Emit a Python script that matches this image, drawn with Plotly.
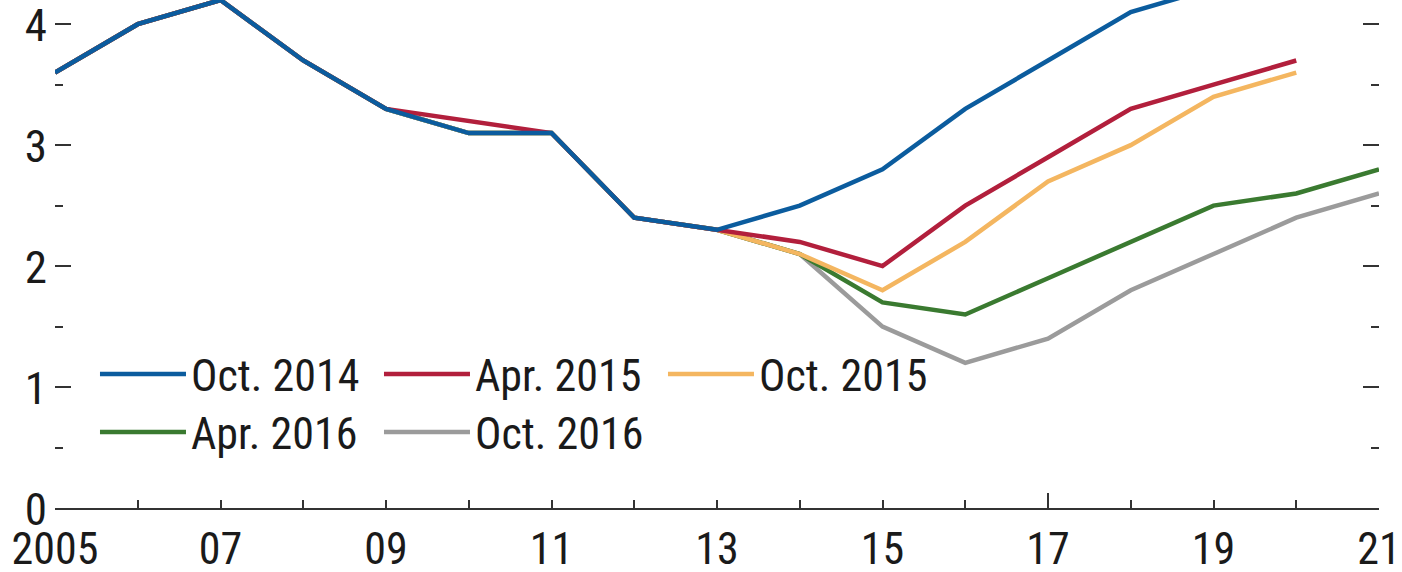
import plotly.graph_objects as go

years = list(range(2005, 2022))

oct_2014 = [3.6, 4.0, 4.2, 3.7, 3.3, 3.1, 3.1, 2.4, 2.3, 2.5, 2.8, 3.3, 3.7, 4.1, 4.3, None, None]
apr_2015 = [3.6, 4.0, 4.2, 3.7, 3.3, 3.2, 3.1, 2.4, 2.3, 2.2, 2.0, 2.5, 2.9, 3.3, 3.5, 3.7, None]
oct_2015 = [3.6, 4.0, 4.2, 3.7, 3.3, 3.1, 3.1, 2.4, 2.3, 2.1, 1.8, 2.2, 2.7, 3.0, 3.4, 3.6, None]
apr_2016 = [3.6, 4.0, 4.2, 3.7, 3.3, 3.1, 3.1, 2.4, 2.3, 2.1, 1.7, 1.6, 1.9, 2.2, 2.5, 2.6, 2.8]
oct_2016 = [3.6, 4.0, 4.2, 3.7, 3.3, 3.1, 3.1, 2.4, 2.3, 2.1, 1.5, 1.2, 1.4, 1.8, 2.1, 2.4, 2.6]

series_names = ["Oct. 2014", "Apr. 2015", "Oct. 2015", "Apr. 2016", "Oct. 2016"]
series_values = [oct_2014, apr_2015, oct_2015, apr_2016, oct_2016]
series_colors = ["#0B5C9E", "#B21F3C", "#F4B660", "#3A7A30", "#9B9B9B"]
legend_ids = ["legend", "legend", "legend", "legend2", "legend2"]

x_tick_vals = list(range(2005, 2022, 2))
x_tick_text = ["2005", "07", "09", "11", "13", "15", "17", "19", "21"]
tall_tick_years = [2005, 2017]
y_tick_vals = [0, 1, 2, 3, 4]

FONT = "Liberation Sans Narrow, Arial Narrow, Roboto Condensed, DejaVu Sans Condensed, sans-serif"
TICKC = "#333333"

fig = go.Figure()
# draw in reverse order so Oct. 2014 is on top of the shared history
order = [4, 3, 2, 1, 0]
for i in order:
    fig.add_trace(go.Scatter(
        x=years, y=series_values[i], name=series_names[i], mode="lines",
        line=dict(color=series_colors[i], width=4.5),
        legend=legend_ids[i], legendrank=i + 1, connectgaps=False,
    ))

# helper trace so the overlay axis carrying the tall ticks is drawn
fig.add_trace(go.Scatter(x=[years[0]], y=[None], xaxis="x2", showlegend=False,
                         hoverinfo="skip", mode="lines"))

legend_common = dict(orientation="h", xanchor="left", yanchor="top",
                     entrywidth=183, itemwidth=86, bgcolor="rgba(0,0,0,0)",
                     font=dict(size=44), traceorder="normal")

fig.update_layout(
    width=1402, height=572,
    margin=dict(l=55, r=23, t=0, b=64, autoexpand=False),
    paper_bgcolor="white", plot_bgcolor="white",
    font=dict(family=FONT, size=45, color="#1a1a1a"),
    showlegend=True,
    legend=dict(x=0.0302, y=0.333, **legend_common),
    legend2=dict(x=0.0302, y=0.2185, **legend_common),
    xaxis=dict(range=[2005, 2021], tickvals=x_tick_vals, ticktext=x_tick_text,
               ticks="inside", ticklen=8, tickwidth=2, tickcolor=TICKC,
               minor=dict(dtick=1, tick0=2005, ticks="inside", ticklen=8, tickwidth=2, tickcolor=TICKC),
               showline=True, linecolor=TICKC, linewidth=2, showgrid=False, zeroline=False,
               tickfont=dict(size=44), ticklabelstandoff=1, ticklabeloverflow="allow",
               automargin=False),
    xaxis2=dict(range=[2005, 2021], overlaying="x", anchor="y", side="bottom",
                tickvals=tall_tick_years, ticks="inside", ticklen=15, tickwidth=2,
                tickcolor=TICKC, showticklabels=False, showline=False, showgrid=False,
                zeroline=False, automargin=False),
    yaxis=dict(range=[0, 4.2], tickvals=y_tick_vals, ticks="inside", ticklen=16,
               tickwidth=2, tickcolor=TICKC, mirror="ticks", showline=False,
               minor=dict(dtick=0.5, tick0=0, ticks="inside", ticklen=8, tickwidth=2, tickcolor=TICKC),
               showgrid=False, zeroline=False, tickfont=dict(size=45),
               ticklabelshift=1, ticklabelstandoff=7, ticklabeloverflow="allow",
               automargin=False),
)

fig.write_html("out.html", config={"displayModeBar": False},
               post_script="document.body.style.margin='0';document.body.style.overflow='hidden';")
